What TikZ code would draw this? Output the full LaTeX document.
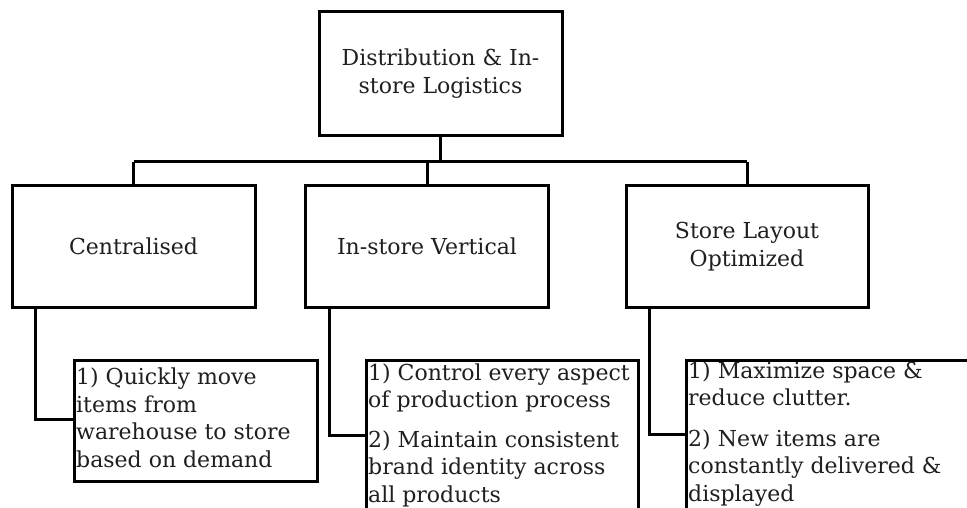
\documentclass[tikz,border=0pt]{standalone}
\usepackage{fontspec}
\setmainfont{DejaVu Serif}
\begin{document}
\begin{tikzpicture}[x=1pt,y=-1pt,
  box/.style={draw=black, line width=3pt, rectangle, inner sep=0pt, minimum width=243pt, minimum height=121pt, align=center, font=\fontsize{22}{28}\selectfont, text=black!88},
  leaf/.style={draw=black, line width=3pt, rectangle, inner sep=0pt, anchor=north west},
  leaftext/.style={anchor=base west, align=left, inner sep=0pt, font=\fontsize{22}{27.5}\selectfont, text=black!88},
  link/.style={draw=black, line width=3pt}]
\useasboundingbox (0,0) rectangle (967,508);
\clip (0,0) rectangle (967,508);
\fill[white] (0,0) rectangle (967,508);
% top
\node[box, minimum height=124pt] (top) at (440.5,74) {Distribution \& In-\\store Logistics};
% second level
\node[box] (c1) at (133.5,246.5) {Centralised};
\node[box] (c2) at (427,246.5) {In-store Vertical};
\node[box, minimum width=242pt] (c3) at (747,246.5) {Store Layout\\Optimized};
% bus
\coordinate (bus) at (440.5,162);
\draw[link] (top.south) -- (bus);
\draw[link] (c1.north |- bus) -- (c3.north |- bus);
\draw[link] (c1.north |- bus) -- (c1.north);
\draw[link] (c2.north |- bus) -- (c2.north);
\draw[link] (c3.north |- bus) -- (c3.north);
% leaves
\node[leaf, minimum width=243pt, minimum height=121pt] (d1) at (73,359) {};
\node[leaf, minimum width=272pt, minimum height=154pt] (d2) at (365,359) {};
\node[leaf, minimum width=330pt, minimum height=154pt] (d3) at (685,359) {};
% base anchor = baseline of the last line
\node[leaftext] (d1t) at (76,467) {1) Quickly move\\items from\\warehouse to store\\based on demand};
\node[leaftext] (d2t) at (368,502) {1) Control every aspect\\of production process\\[12pt]2) Maintain consistent\\brand identity across\\all products};
\node[leaftext] (d3t) at (688,501) {1) Maximize space \&\\reduce clutter.\\[13pt]2) New items are\\constantly delivered \&\\displayed};
% leaf connectors
\draw[link] ([xshift=25pt]c1.south west) |- ([yshift=1.5pt]d1.west);
\draw[link] ([xshift=25pt]c2.south west) |- ([yshift=2pt]d2.west);
\draw[link] ([xshift=25pt]c3.south west) |- ([yshift=3pt]d3.west);
\end{tikzpicture}
\end{document}
